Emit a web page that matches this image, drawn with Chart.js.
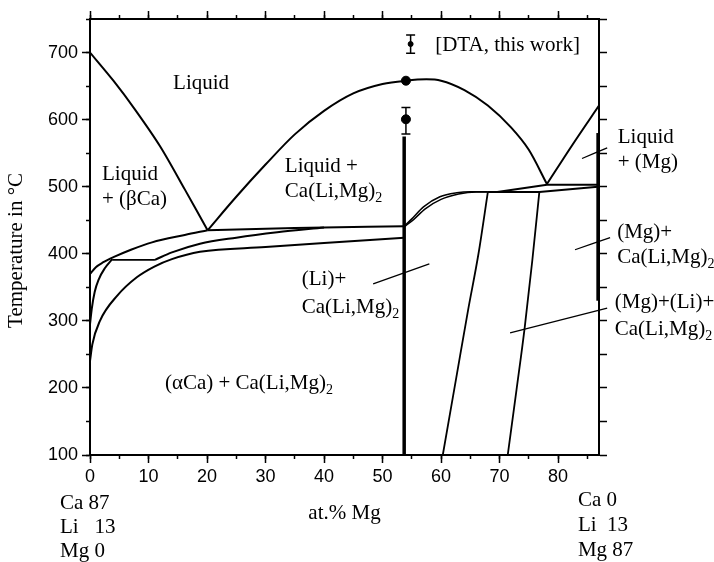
<!DOCTYPE html>
<html>
<head>
<meta charset="utf-8">
<script src="https://cdn.jsdelivr.net/npm/chart.js@4.4.0/dist/chart.umd.min.js"></script>
<style>
  html, body { margin: 0; padding: 0; background: #fff; }
  canvas { display: block; }
</style>
</head>
<body>
<canvas id="chart" width="714" height="562"></canvas>
<script>
// Ca-Li-Mg isopleth at 13 at.% Li: x = at.% Mg, y = temperature in °C

// liquidus
const liqLeftX = [0, 4, 7.7, 12, 16.2, 20.1]
const liqLeftT = [700, 658, 615, 560, 496, 435]
const liqMidX = [20.1, 25, 30, 35, 40, 45, 50, 54, 57.5, 60, 64, 68, 72, 75, 78.1]
const liqMidT = [435, 485, 533, 578, 613, 639, 653, 658, 660, 658, 644, 621, 588, 555, 504]
const liqRightX = [78.1, 82.5, 87]
const liqRightT = [504, 563, 621]

// Ca-rich side
const solidusX = [0, 1, 2.2, 4.3, 7, 10.6, 16.2, 20.1]
const solidusT = [370, 380, 387, 396, 406, 417, 428, 435]
const eutecticX = [20.1, 35, 53.7]
const eutecticT = [435, 438.5, 441]
const curveBX = [0, 0.3, 0.8, 1.5, 2.5, 3.8]
const curveBT = [295, 318, 343, 362, 378, 392]
const betaAlphaX = [3.8, 11.1]
const betaAlphaT = [391, 391]
const middleX = [11.1, 14, 18.8, 25, 32, 40]
const middleT = [391, 402, 415, 424, 432, 439.2]
const curveCX = [0, 0.4, 1.7, 4.7, 8, 11, 14, 18.8, 30, 40, 53.7]
const curveCT = [240, 265, 300, 338, 365, 381, 392, 403, 410, 416, 424]

// compound line and Mg-rich side
const compoundX = [53.7, 53.7]
const compoundT = [100, 575]
const humpAX = [53.7, 55, 57, 59.8, 62.7, 65, 68]
const humpAT = [441, 452, 470, 485, 491, 492.5, 492.5]
const humpBX = [53.7, 55.3, 57.3, 60, 63, 66, 68]
const humpBT = [440, 451, 467, 481, 489, 492, 492]
const ternLowX = [68, 76.8, 86.8]
const ternLowT = [492, 492, 500]
const ternHighX = [69.6, 78.1, 86.8]
const ternHighT = [492, 503, 503]
const solvus1X = [60.3, 62.6, 64.6, 66.4, 68]
const solvus1T = [100, 215, 315, 400, 492]
const solvus2X = [71.4, 72.9, 74.3, 75.6, 76.8]
const solvus2T = [100, 197, 290, 390, 492]
const mgSolvusX = [86.8, 86.8]
const mgSolvusT = [330, 580]

// leader lines for the region labels
const leadLiqMgX = [84.1, 88.4], leadLiqMgT = [542, 558]
const leadMgCaX = [82.9, 88.9], leadMgCaT = [406, 424]
const leadMgLiX = [71.8, 88.4], leadMgLiT = [282, 319]
const leadLiCaX = [48.4, 58], leadLiCaT = [355, 385]

// DTA measurements
const dtaX = [54, 54]
const dtaT = [658, 600.5]
const dtaLow = [null, 578.5]
const dtaHigh = [null, 618]
const keyX = [54.8], keyT = [712.7], keyLow = [699], keyHigh = [726]

const xTicks = { min: 0, max: 87, major: 10, minor: 5 }
const yTicks = { min: 100, max: 750, major: 100, minor: 50 }

const labels = [
  { lines: ['Liquid'], x: 14.2, t: 645.6 },
  { lines: ['Liquid', '+ (βCa)'], x: 2.05, t: 510 },
  { lines: ['Liquid +', 'Ca(Li,Mg)_2'], x: 33.3, t: 521.4 },
  { lines: ['Liquid', '+ (Mg)'], x: 90.2, t: 564.6 },
  { lines: ['(Mg)+', 'Ca(Li,Mg)_2'], x: 90.1, t: 423 },
  { lines: ['(Mg)+(Li)+', 'Ca(Li,Mg)_2'], x: 89.7, t: 319, gap: 27 },
  { lines: ['(Li)+', 'Ca(Li,Mg)_2'], x: 36.2, t: 353.4, gap: 28 },
  { lines: ['(αCa) + Ca(Li,Mg)_2'], x: 12.8, t: 198 },
  { lines: ['[DTA, this work]'], x: 59, t: 702 },
  { lines: ['Ca 87', 'Li   13', 'Mg 0'], x: -5.13, t: 19.5, gap: 24 },
  { lines: ['Ca 0', 'Li  13', 'Mg 87'], x: 83.4, t: 24, gap: 25 },
  { lines: ['Temperature in °C'], x: -12.5, t: 405, rotate: true }
]

const SERIF = 'Liberation Serif'
const zip = (xs, ts) => xs.map((x, i) => ({ x, y: ts[i] }))

function curve(xs, ts, extra) {
  return Object.assign({
    data: zip(xs, ts),
    showLine: true,
    borderColor: '#000',
    borderWidth: 2,
    pointRadius: 0,
    cubicInterpolationMode: 'monotone',
    fill: false
  }, extra)
}

const errorBars = {
  id: 'errorBars',
  afterDatasetsDraw(chart) {
    const { ctx, scales: { x, y } } = chart
    chart.data.datasets.forEach(ds => {
      if (!ds.errLow) return
      ds.data.forEach((p, i) => {
        if (ds.errLow[i] == null) return
        const px = x.getPixelForValue(p.x)
        const y1 = y.getPixelForValue(ds.errLow[i])
        const y2 = y.getPixelForValue(ds.errHigh[i])
        ctx.save()
        ctx.strokeStyle = '#000'
        ctx.lineWidth = 1.5
        ctx.beginPath()
        ctx.moveTo(px, y1); ctx.lineTo(px, y2)
        ctx.moveTo(px - 4.5, y1); ctx.lineTo(px + 4.5, y1)
        ctx.moveTo(px - 4.5, y2); ctx.lineTo(px + 4.5, y2)
        ctx.stroke()
        ctx.restore()
      })
    })
  }
}

// text with an optional subscript after "_"
function richText(ctx, str, x, y) {
  const [main, sub] = str.split('_')
  ctx.font = `21px "${SERIF}"`
  ctx.fillText(main, x, y)
  if (sub) {
    const w = ctx.measureText(main).width
    ctx.font = `14px "${SERIF}"`
    ctx.fillText(sub, x + w, y + 5)
  }
}

const textLabels = {
  id: 'textLabels',
  afterDraw(chart) {
    const { ctx, scales: { x, y } } = chart
    ctx.save()
    ctx.fillStyle = '#000'
    labels.forEach(l => {
      const px = x.getPixelForValue(l.x)
      const py = y.getPixelForValue(l.t)
      if (l.rotate) {
        ctx.save()
        ctx.translate(px, py)
        ctx.rotate(-Math.PI / 2)
        ctx.textAlign = 'center'
        ctx.textBaseline = 'middle'
        ctx.font = `21px "${SERIF}"`
        ctx.fillText(l.lines[0], 0, 0)
        ctx.restore()
        return
      }
      ctx.textAlign = 'left'
      ctx.textBaseline = 'alphabetic'
      l.lines.forEach((s, i) => richText(ctx, s, px, py + i * (l.gap || 25)))
    })
    ctx.restore()
  }
}

const tickFont = { family: 'Liberation Sans', size: 18 }

function axis(position, range, step, len, opts) {
  const horizontal = position === 'top' || position === 'bottom'
  return Object.assign({
    type: 'linear',
    position,
    min: range.min,
    max: range.max,
    ticks: { stepSize: step, display: false, includeBounds: false },
    grid: { drawOnChartArea: false, drawTicks: true, tickLength: len, tickColor: '#000', tickWidth: 1.5 },
    border: { display: false },
    afterFit: s => { if (horizontal) s.height = 0; else s.width = 0 }
  }, opts)
}

const config = {
  type: 'scatter',
  data: {
    datasets: [
      curve(liqLeftX, liqLeftT, { tension: 0.3, cubicInterpolationMode: 'default' }),
      curve(liqMidX, liqMidT),
      curve(liqRightX, liqRightT),
      curve(solidusX, solidusT),
      curve(eutecticX, eutecticT),
      curve(curveBX, curveBT),
      curve(betaAlphaX, betaAlphaT, { borderWidth: 1.8 }),
      curve(middleX, middleT),
      curve(curveCX, curveCT),
      curve(compoundX, compoundT, { borderWidth: 3.5, cubicInterpolationMode: 'default' }),
      curve(humpAX, humpAT, { borderWidth: 1.5 }),
      curve(humpBX, humpBT, { borderWidth: 1.5 }),
      curve(ternLowX, ternLowT, { cubicInterpolationMode: 'default' }),
      curve(ternHighX, ternHighT, { cubicInterpolationMode: 'default' }),
      curve(solvus1X, solvus1T, { borderWidth: 1.8 }),
      curve(solvus2X, solvus2T, { borderWidth: 1.8 }),
      curve(mgSolvusX, mgSolvusT, { borderWidth: 3, cubicInterpolationMode: 'default' }),
      curve(leadLiqMgX, leadLiqMgT, { borderWidth: 1.3, clip: false }),
      curve(leadMgCaX, leadMgCaT, { borderWidth: 1.3, clip: false }),
      curve(leadMgLiX, leadMgLiT, { borderWidth: 1.3, clip: false }),
      curve(leadLiCaX, leadLiCaT, { borderWidth: 1.3, clip: false }),
      {
        data: zip(dtaX, dtaT),
        pointRadius: 4.5,
        pointBackgroundColor: '#000',
        pointBorderColor: '#000',
        errLow: dtaLow,
        errHigh: dtaHigh
      },
      {
        data: zip(keyX, keyT),
        pointRadius: 2.5,
        pointBackgroundColor: '#000',
        pointBorderColor: '#000',
        errLow: keyLow,
        errHigh: keyHigh
      }
    ]
  },
  options: {
    responsive: false,
    animation: false,
    devicePixelRatio: 1,
    layout: { padding: { top: 19, right: 115, left: 0, bottom: 0 } },
    plugins: { legend: { display: false }, tooltip: { enabled: false } },
    scales: {
      x: axis('bottom', xTicks, xTicks.major, 8, {
        weight: 1,
        ticks: { stepSize: xTicks.major, includeBounds: false, font: tickFont, color: '#000', maxRotation: 0, padding: 3 },
        border: { display: true, color: '#000', width: 2 },
        title: { display: true, text: 'at.% Mg', color: '#000', font: { family: SERIF, size: 21 }, padding: { top: 0, bottom: 36 } },
        afterFit: s => { s.height = 107 }
      }),
      xMinor: axis('bottom', xTicks, xTicks.minor, 4, { weight: 0 }),
      xTop: axis('top', xTicks, xTicks.major, 8, { weight: 0, border: { display: true, color: '#000', width: 2 } }),
      xTopMinor: axis('top', xTicks, xTicks.minor, 4, { weight: 1 }),
      y: axis('left', yTicks, yTicks.major, 8, {
        weight: 1,
        ticks: { stepSize: yTicks.major, includeBounds: false, font: tickFont, color: '#000', padding: 4 },
        border: { display: true, color: '#000', width: 2 },
        afterFit: s => { s.width = 90 }
      }),
      yMinor: axis('left', yTicks, yTicks.minor, 4, { weight: 0 }),
      yRight: axis('right', yTicks, yTicks.minor, 8, { border: { display: true, color: '#000', width: 2 } })
    }
  },
  plugins: [errorBars, textLabels]
}

new Chart(document.getElementById('chart'), config)
</script>
</body>
</html>
